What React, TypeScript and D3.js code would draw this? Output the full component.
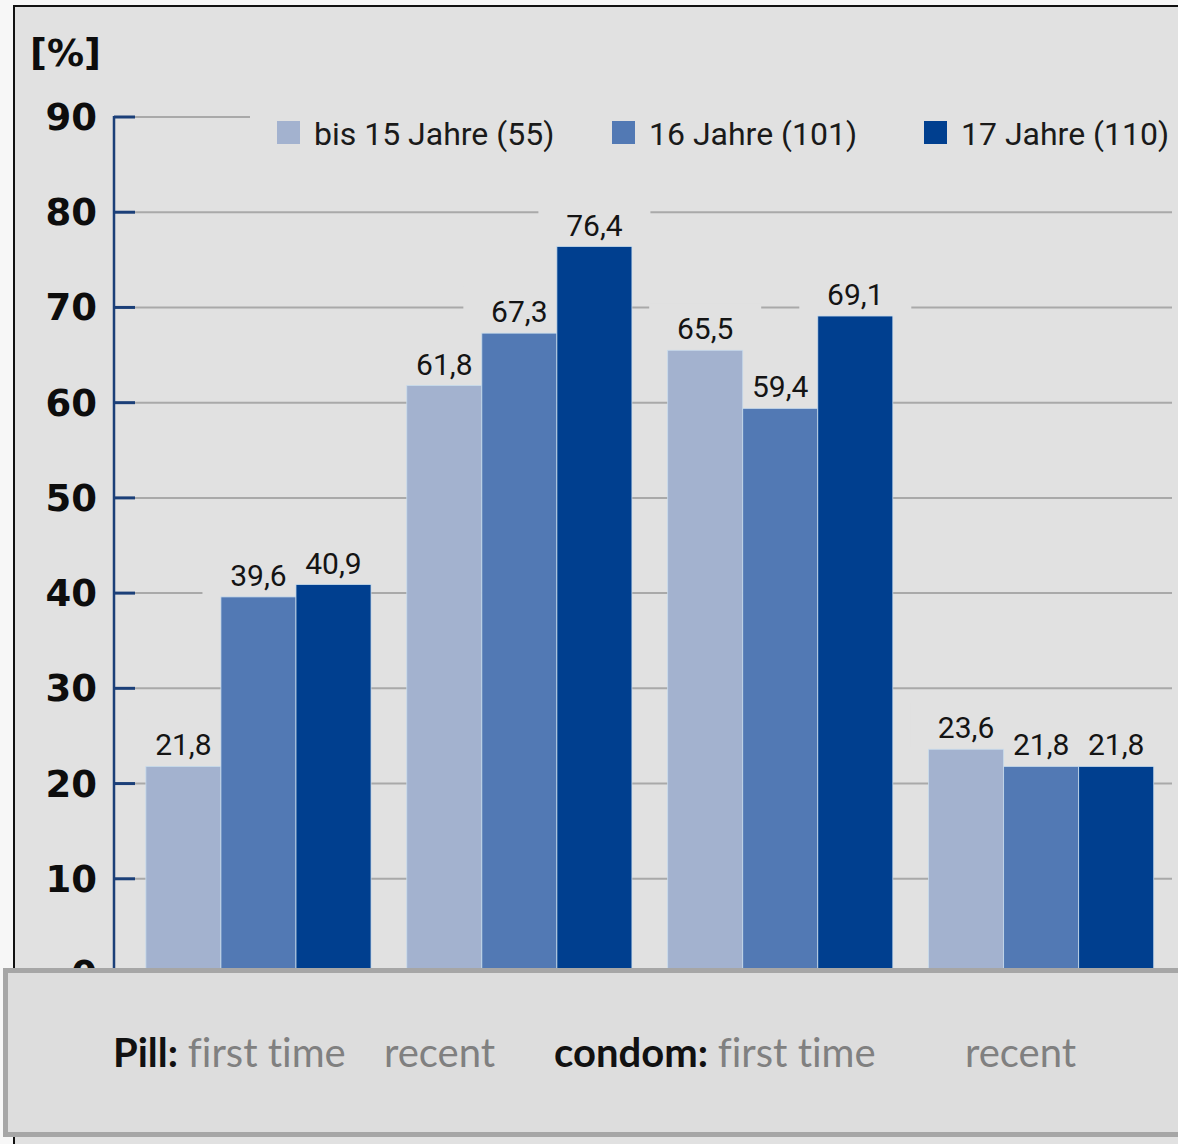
import React from 'react';
import * as d3 from 'd3';

// Values, in percent
const groups = ['pill-first', 'pill-recent', 'condom-first', 'condom-recent'];
const seriesNames = ['bis 15 Jahre (55)', '16 Jahre (101)', '17 Jahre (110)'];
const upTo15 = [21.8, 61.8, 65.5, 23.6];
const age16 = [39.6, 67.3, 59.4, 21.8];
const age17 = [40.9, 76.4, 69.1, 21.8];
const seriesValues = [upTo15, age16, age17];
const seriesColors = ['#a3b2cf', '#5279b4', '#003f8f'];
const yTickValues = [0, 10, 20, 30, 40, 50, 60, 70, 80, 90];
const bottomBold = ['Pill:', '', 'condom:', ''];
const bottomText = ['first time', 'recent', 'first time', 'recent'];

const W = 1178;
const H = 1144;
const BG = '#e1e1e1';

const fmt = (v: number) => v.toFixed(1).replace('.', ',');

export default function App() {
  const y = d3.scaleLinear().domain([0, 90]).range([974, 117]);
  const x0 = d3
    .scaleBand<string>()
    .domain(groups)
    .range([128, 1171.6])
    .paddingInner(0.137)
    .paddingOuter(0.0685);
  const x1 = d3
    .scaleBand<number>()
    .domain(d3.range(seriesNames.length))
    .range([0, x0.bandwidth()]);

  const axisX = 114;
  const tickLen = 21;
  const gridEnd = 1172;

  // one entry per bar
  const bars = groups.flatMap((g, gi) =>
    seriesValues.map((vals, si) => ({
      key: `${g}-${si}`,
      x: (x0(g) ?? 0) + (x1(si) ?? 0),
      y: y(vals[gi]),
      h: y(0) - y(vals[gi]),
      v: vals[gi],
      color: seriesColors[si],
    }))
  );

  const legendX = [277, 612, 924];
  const bottomX = [113, 384, 554, 965];

  return (
    <svg
      width={W}
      height={H}
      viewBox={`0 0 ${W} ${H}`}
      style={{ position: 'absolute', left: 0, top: 0, background: '#f7f7f7' }}
    >
      {/* frame */}
      <rect x={14} y={6} width={W + 20} height={H + 20} fill={BG} stroke="#111" strokeWidth={2} />

      {/* unit */}
      <text x={30} y={66} fontFamily="DejaVu Sans" fontWeight="bold" fontSize={37} fill="#0d0d0d">
        [%]
      </text>

      {/* grid */}
      <g>
        {yTickValues.map((t) => (
          <line
            key={`g-${t}`}
            x1={axisX + tickLen}
            x2={gridEnd}
            y1={y(t)}
            y2={y(t)}
            stroke="#a9a9a9"
            strokeWidth={2}
          />
        ))}
      </g>

      {/* knock-outs behind the value labels */}
      <g>
        {bars.map((b) => (
          <rect
            key={`k-${b.key}`}
            x={b.x + x1.bandwidth() / 2 - 56}
            y={b.y - 47}
            width={112}
            height={45}
            fill={BG}
          />
        ))}
      </g>

      {/* bars */}
      <g>
        {bars.map((b) => (
          <rect
            key={b.key}
            x={b.x}
            y={b.y}
            width={x1.bandwidth()}
            height={b.h}
            fill={b.color}
            stroke="#c9dcec"
            strokeWidth={0.8}
          />
        ))}
      </g>

      {/* value labels */}
      <g fontFamily="Roboto" fontSize={30} fill="#141414" textAnchor="middle">
        {bars.map((b) => (
          <text key={`l-${b.key}`} x={b.x + x1.bandwidth() / 2} y={b.y - 11}>
            {fmt(b.v)}
          </text>
        ))}
      </g>

      {/* y axis */}
      <g stroke="#1b3f78">
        <line x1={axisX} x2={axisX} y1={y(90) - 1} y2={y(0)} strokeWidth={2.5} />
        {yTickValues.map((t) => (
          <line key={`t-${t}`} x1={axisX} x2={axisX + tickLen} y1={y(t)} y2={y(t)} strokeWidth={3} />
        ))}
      </g>
      <g fontFamily="DejaVu Sans" fontWeight="bold" fontSize={37} fill="#0d0d0d" textAnchor="end">
        {yTickValues.map((t) => (
          <text key={`yl-${t}`} x={97} y={y(t) + 13}>
            {t}
          </text>
        ))}
      </g>

      {/* legend */}
      <rect x={250} y={100} width={W} height={62} fill={BG} />
      <g fontFamily="Roboto" fontSize={32} fill="#1a1a1a">
        {seriesNames.map((name, i) => (
          <g key={name}>
            <rect x={legendX[i]} y={121} width={23} height={23} fill={seriesColors[i]} />
            <text x={legendX[i] + 37} y={145}>
              {name}
            </text>
          </g>
        ))}
      </g>

      {/* category box laid over the bottom */}
      <rect x={5.5} y={970.5} width={W + 20} height={164} fill="#dddddd" stroke="#a6a6a6" strokeWidth={5} />
      <g fontFamily="Lato" fontSize={40} style={{ fontVariantLigatures: 'none' }}>
        {bottomText.map((txt, i) => (
          <text key={`b-${i}`} x={bottomX[i]} y={1067}>
            {bottomBold[i] && (
              <tspan fontWeight="bold" fill="#111">
                {bottomBold[i]}{' '}
              </tspan>
            )}
            <tspan fill="#808080">{txt}</tspan>
          </text>
        ))}
      </g>
    </svg>
  );
}
